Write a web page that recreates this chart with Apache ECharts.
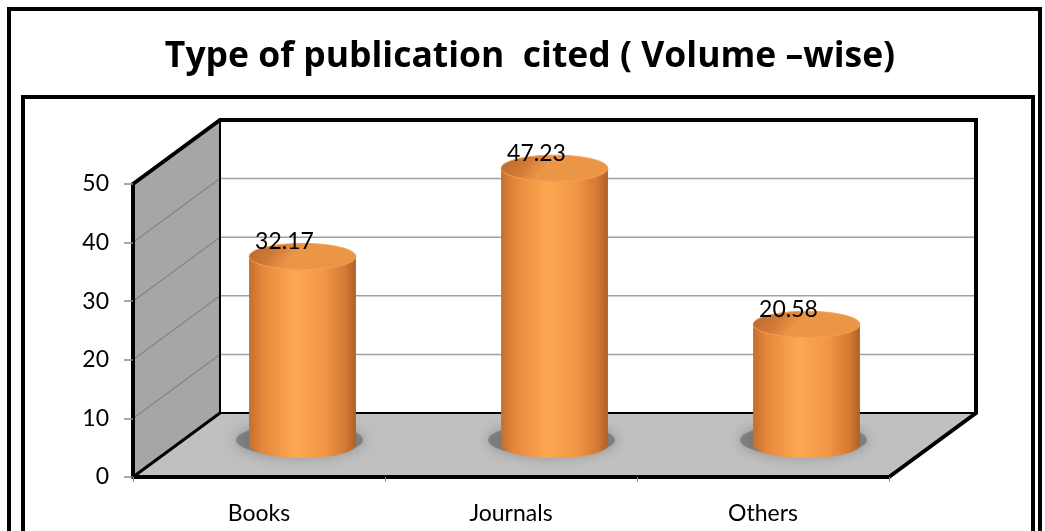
<!DOCTYPE html>
<html>
<head>
<meta charset="utf-8">
<script src="https://cdn.jsdelivr.net/npm/echarts@6/dist/echarts.min.js"></script>
<style>
  html, body { margin: 0; padding: 0; background: #ffffff; }
  #chart { width: 1045px; height: 531px; }
</style>
</head>
<body>
<div id="chart"></div>
<script>
// ---- chart data ----
const titleText = 'Type of publication  cited ( Volume \u2013wise)';
const categories = ['Books', 'Journals', 'Others'];
const volumeShare = [32.17, 47.23, 20.58];
const yTicks = [0, 10, 20, 30, 40, 50];

// ---- 3D box geometry (offset of the back wall from the front plane) ----
const DEPTH = [87, -64];
const FONT = 'Lato';

const yMin = yTicks[0];
const yMax = yTicks[yTicks.length - 1];

const chart = echarts.init(document.getElementById('chart'), null, { renderer: 'canvas' });

// Walls, floor, gridlines and edges of the 3D box
function renderBox(params, api) {
  const bw = api.size([1, 0])[0];
  const p0 = api.coord([0, yMin]);
  const left = p0[0] - bw / 2;
  const right = api.coord([categories.length - 1, yMin])[0] + bw / 2;
  const yBase = p0[1];
  const yTop = api.coord([0, yMax])[1];
  const dx = DEPTH[0], dy = DEPTH[1];
  const children = [];

  // side wall
  children.push({
    type: 'polygon',
    shape: { points: [[left, yBase], [left, yTop], [left + dx, yTop + dy], [left + dx, yBase + dy]] },
    style: { fill: '#a6a6a6' }
  });
  // floor
  children.push({
    type: 'polygon',
    shape: { points: [[left, yBase], [right, yBase], [right + dx, yBase + dy], [left + dx, yBase + dy]] },
    style: { fill: '#c0c0c0' }
  });
  // back wall
  children.push({
    type: 'rect',
    shape: { x: left + dx, y: yTop + dy, width: right - left, height: yBase - yTop },
    style: { fill: '#ffffff' }
  });
  // gridlines on back and side walls
  yTicks.forEach(function (v) {
    if (v === yMin || v === yMax) return;
    const y = api.coord([0, v])[1];
    children.push({
      type: 'line',
      shape: { x1: left + dx, y1: y + dy, x2: right + dx, y2: y + dy },
      style: { stroke: '#a0a0a0', lineWidth: 1.5 }
    });
    children.push({
      type: 'line',
      shape: { x1: left, y1: y, x2: left + dx, y2: y + dy },
      style: { stroke: '#858585', lineWidth: 1.3 }
    });
  });
  // inner corner edges
  children.push({
    type: 'polyline',
    shape: { points: [[left + dx, yTop + dy], [left + dx, yBase + dy], [right + dx, yBase + dy]] },
    style: { stroke: '#000', lineWidth: 2, fill: null }
  });
  // outer silhouette edges
  children.push({
    type: 'polyline',
    shape: { points: [[left, yTop], [left + dx, yTop + dy], [right + dx, yTop + dy], [right + dx, yBase + dy], [right, yBase]] },
    style: { stroke: '#000', lineWidth: 4, fill: null, lineJoin: 'miter' }
  });
  children.push({
    type: 'line',
    shape: { x1: left, y1: yBase, x2: left + dx, y2: yBase + dy },
    style: { stroke: '#000', lineWidth: 3 }
  });
  return { type: 'group', children: children };
}

// One cylinder per category, standing in the middle of the box depth
function renderCylinder(params, api) {
  const idx = api.value(0);
  const val = api.value(1);
  const bw = api.size([1, 0])[0];
  const base = api.coord([idx, yMin]);
  const top = api.coord([idx, val]);
  const cx = base[0] + DEPTH[0] / 2;
  const yb = base[1] + DEPTH[1] / 2;
  const yt = top[1] + DEPTH[1] / 2;
  const rx = bw * 0.212;
  const ry = rx * 0.245;

  const bodyFill = {
    type: 'linear', x: 0, y: 0, x2: 1, y2: 0,
    colorStops: [
      { offset: 0, color: '#c66e2c' },
      { offset: 0.12, color: '#e5863a' },
      { offset: 0.42, color: '#fca851' },
      { offset: 0.7, color: '#f29746' },
      { offset: 0.9, color: '#d47a33' },
      { offset: 1, color: '#ae5f28' }
    ]
  };
  const topFill = {
    type: 'linear', x: 0, y: 0, x2: 0.3, y2: 1,
    colorStops: [
      { offset: 0, color: '#b4662e' },
      { offset: 0.6, color: '#d07a36' },
      { offset: 1, color: '#eb9647' }
    ]
  };

  return {
    type: 'group',
    children: [
      {
        type: 'ellipse',
        shape: { cx: cx - 3, cy: yb - 5, rx: rx + 10, ry: ry + 3 },
        style: { fill: 'rgba(100,100,100,0.6)', shadowBlur: 14, shadowColor: 'rgba(90,90,90,0.9)' }
      },
      {
        type: 'ellipse',
        shape: { cx: cx, cy: yb, rx: rx, ry: ry },
        style: { fill: bodyFill }
      },
      {
        type: 'rect',
        shape: { x: cx - rx, y: yt, width: rx * 2, height: yb - yt },
        style: { fill: bodyFill }
      },
      {
        type: 'ellipse',
        shape: { cx: cx, cy: yt, rx: rx, ry: ry },
        style: { fill: topFill, stroke: '#f2a253', lineWidth: 1 }
      },
      {
        type: 'text',
        style: {
          text: val.toFixed(2),
          x: cx - 18, y: yt - 15,
          align: 'center', verticalAlign: 'middle',
          fill: '#000', font: '23px ' + FONT
        }
      }
    ]
  };
}

const option = {
  animation: false,
  backgroundColor: '#ffffff',
  grid: { left: 133, top: 184, width: 756, height: 293 },
  graphic: [
    {
      type: 'rect', z: 0,
      shape: { x: 9, y: 9, width: 1031, height: 560 },
      style: { fill: null, stroke: '#000', lineWidth: 4 }
    },
    {
      type: 'rect', z: 0,
      shape: { x: 23, y: 97, width: 1010, height: 500 },
      style: { fill: null, stroke: '#000', lineWidth: 4 }
    },
    {
      type: 'text', z: 5,
      x: 530, y: 57,
      style: {
        text: titleText,
        align: 'center', verticalAlign: 'middle',
        fill: '#000', font: 'bold 35.5px "Open Sans"'
      }
    }
  ],
  xAxis: {
    type: 'category',
    data: categories,
    boundaryGap: true,
    z: 10,
    axisLine: { show: true, lineStyle: { color: '#000', width: 4 } },
    axisTick: { show: true, length: 5, lineStyle: { color: '#8c8c8c', width: 1 } },
    axisLabel: { color: '#000', fontFamily: FONT, fontSize: 23, margin: 25 },
    splitLine: { show: false }
  },
  yAxis: {
    type: 'value',
    min: yMin, max: yMax, interval: 10,
    z: 10,
    axisLine: { show: true, lineStyle: { color: '#000', width: 4 } },
    axisTick: { show: true, length: 9, lineStyle: { color: '#8c8c8c', width: 1.5 } },
    axisLabel: { color: '#000', fontFamily: FONT, fontSize: 23, margin: 24 },
    splitLine: { show: false }
  },
  series: [
    {
      type: 'custom',
      z: 1,
      silent: true,
      renderItem: renderBox,
      data: [[0, yMin]],
      clip: false
    },
    {
      type: 'custom',
      z: 2,
      renderItem: renderCylinder,
      encode: { x: 0, y: 1 },
      data: volumeShare.map(function (v, i) { return [i, v]; }),
      clip: false
    }
  ]
};

chart.setOption(option);
</script>
</body>
</html>
